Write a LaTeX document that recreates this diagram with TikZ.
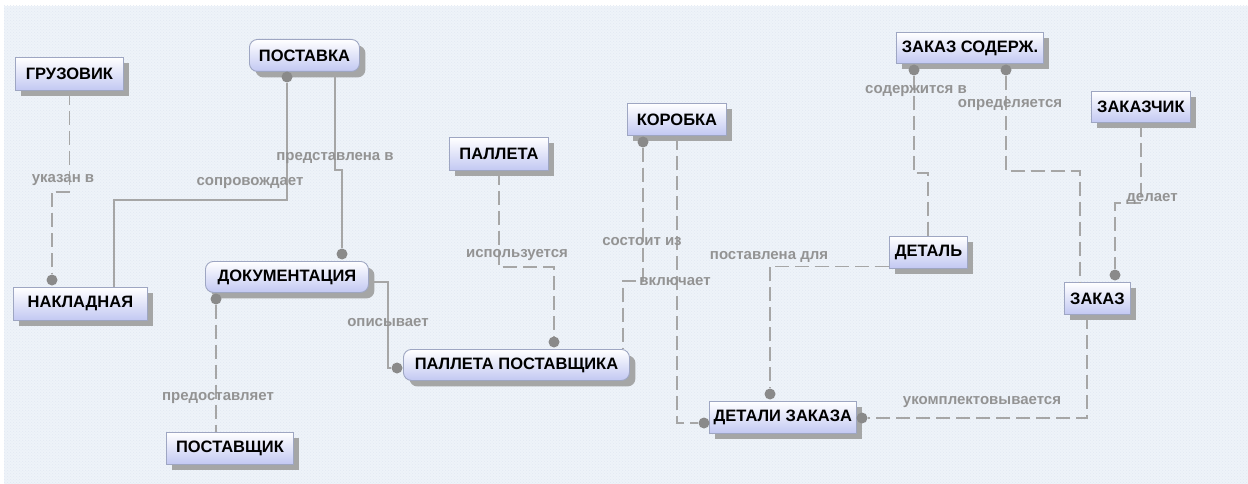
\documentclass[tikz,border=0pt]{standalone}
\usepackage{fontspec}
\setmainfont{Liberation Sans}
\usetikzlibrary{shadows,patterns}

\definecolor{bgblue}{HTML}{EEF3F9}
\definecolor{bgdot}{HTML}{E2E9F2}
\definecolor{linkgray}{HTML}{A6A6A6}
\definecolor{dotgray}{HTML}{8A8A8A}
\definecolor{labelgray}{HTML}{939393}
\definecolor{boxedge}{HTML}{9EA6C2}
\definecolor{boxlow}{HTML}{C2C8F2}

\tikzset{
  entity/.style={draw=boxedge, line width=0.9pt, top color=white, bottom color=boxlow,
    anchor=north west, inner sep=0pt, text=black,
    font=\bfseries\fontsize{16.5}{19}\selectfont,
    drop shadow={shadow xshift=6pt, shadow yshift=-6pt, fill=black!38, opacity=0.9}},
  soft/.style={rounded corners=8pt},
  rel/.style={draw=linkgray, line width=1.3pt},
  nonid/.style={rel, dash pattern=on 14pt off 6pt},
  endpt/.style={circle, fill=dotgray, inner sep=0pt, minimum size=11pt},
  verb/.style={text=labelgray, inner sep=0pt, font=\bfseries\fontsize{15}{18}\selectfont}
}

\begin{document}
\begin{tikzpicture}[x=1pt, y=-1pt]
  \useasboundingbox (0,0) rectangle (1248,484);
  \fill[white] (0,0) rectangle (1248,484);
  \fill[bgblue] (4,6) rectangle (1248,484);
  \fill[pattern=crosshatch dots, pattern color=bgdot] (4,6) rectangle (1248,484);

  % entities
  \node[entity, minimum width=108pt, minimum height=33pt] (gruz) at (15,57) {ГРУЗОВИК};
  \node[entity, soft, minimum width=110pt, minimum height=32pt] (postavka) at (249,39) {ПОСТАВКА};
  \node[entity, minimum width=134pt, minimum height=33pt] (nakl) at (13,287) {НАКЛАДНАЯ};
  \node[entity, soft, minimum width=163pt, minimum height=31pt] (dok) at (205,261) {ДОКУМЕНТАЦИЯ};
  \node[entity, minimum width=127pt, minimum height=32pt] (postavshik) at (166,432) {ПОСТАВЩИК};
  \node[entity, minimum width=99pt, minimum height=33pt] (palleta) at (449,137) {ПАЛЛЕТА};
  \node[entity, soft, minimum width=226pt, minimum height=31pt] (pp) at (403,349) {ПАЛЛЕТА ПОСТАВЩИКА};
  \node[entity, minimum width=99pt, minimum height=32pt] (korobka) at (627,103) {КОРОБКА};
  \node[entity, minimum width=147pt, minimum height=31pt] (zsod) at (896,32) {ЗАКАЗ СОДЕРЖ.};
  \node[entity, minimum width=99pt, minimum height=31pt] (zakazchik) at (1091,91) {ЗАКАЗЧИК};
  \node[entity, minimum width=78pt, minimum height=32pt] (detal) at (889,236) {ДЕТАЛЬ};
  \node[entity, minimum width=66pt, minimum height=32pt] (zakaz) at (1064,282) {ЗАКАЗ};
  \node[entity, minimum width=147pt, minimum height=32pt] (dz) at (709,401) {ДЕТАЛИ ЗАКАЗА};

  % relationship end points
  \node[endpt] (c1) at (52,280) {};
  \node[endpt] (c2) at (287,77) {};
  \node[endpt] (c3) at (342,254) {};
  \node[endpt] (c4) at (216,299) {};
  \node[endpt] (c5) at (397,368) {};
  \node[endpt] (c6) at (554,342) {};
  \node[endpt] (c7) at (643,142) {};
  \node[endpt] (c8) at (704,423) {};
  \node[endpt] (c9) at (914,70) {};
  \node[endpt] (c10) at (1006,70) {};
  \node[endpt] (c11) at (1115,275) {};
  \node[endpt] (c12) at (770,394) {};
  \node[endpt] (c13) at (862,418) {};

  % relationships
  \draw[nonid] (gruz.south) -- ++(0,101) -| (c1);
  \draw[rel] (c2) -- ++(0,123) -| ([xshift=101pt]nakl.north west);
  \draw[rel] ([xshift=86pt]postavka.south west) -- ++(0,98) -| (c3);
  \draw[nonid] (c4) -- (c4 |- postavshik.north);
  \draw[rel] ([yshift=-5pt]dok.east) -- ++(19,0) |- (c5);
  \draw[nonid] (palleta.south) -- ++(0,96) -| (c6);
  \draw[nonid] (c7) -- ++(0,139) -| ([xshift=220pt]pp.north west);
  \draw[nonid] ([xshift=50pt]korobka.south west) |- (c8);
  \draw[nonid] (c9) -- ++(0,103) -| ([xshift=39pt]detal.north west);
  \draw[nonid] (c10) -- ++(0,101) -| ([xshift=16pt]zakaz.north west);
  \draw[nonid] (zakazchik.south) -- ++(0,80) -| (c11);
  \draw[nonid] ([yshift=-14pt]detal.west) -| (c12);
  \draw[nonid] ([xshift=23pt]zakaz.south west) |- (c13);

  % relationship names
  \node[verb] (l1) at (63,180) {указан в};
  \node[verb] (l2) at (250,183) {сопровождает};
  \node[verb] (l3) at (335,158) {представлена в};
  \node[verb] (l4) at (218,398) {предоставляет};
  \node[verb] (l5) at (388,323) {описывает};
  \node[verb] (l6) at (517,255) {используется};
  \node[verb] (l7) at (642,242) {состоит из};
  \node[verb] (l8) at (675,282) {включает};
  \node[verb] (l9) at (916,91) {содержится в};
  \node[verb] (l10) at (1010,105) {определяется};
  \node[verb] (l11) at (1152,199) {делает};
  \node[verb] (l12) at (769,257) {поставлена для};
  \node[verb] (l13) at (982,402) {укомплектовывается};
\end{tikzpicture}
\end{document}
